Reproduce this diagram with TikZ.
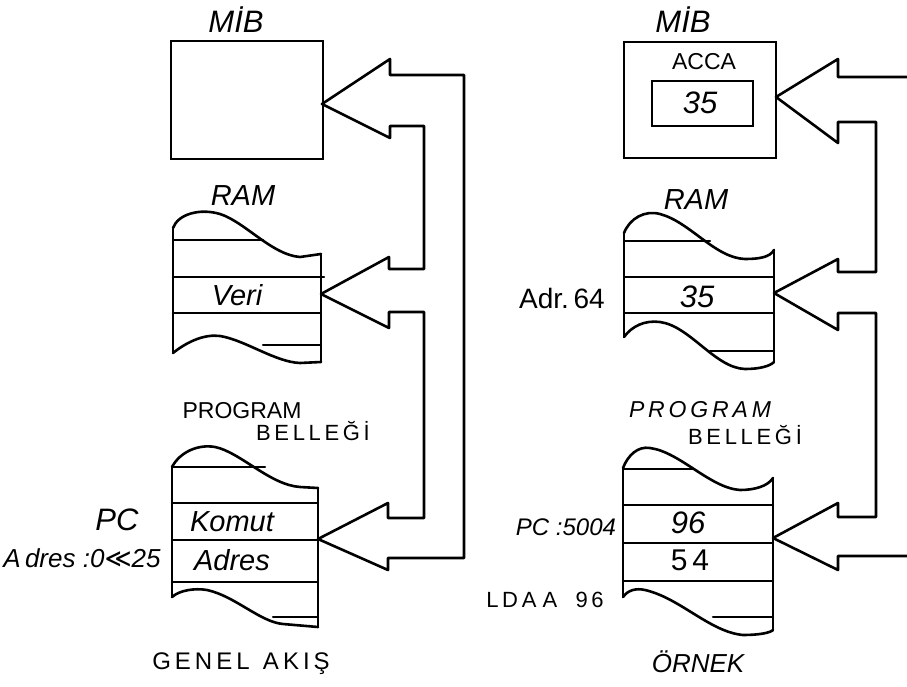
\documentclass[tikz,border=0pt]{standalone}
\usepackage{fontspec}
\setmainfont{Liberation Sans}
\newfontfamily\dvfont{DejaVu Sans}
\tikzset{
  ln/.style={line width=2.6pt, line join=round, line cap=round},
  thin/.style={line width=2.1pt, line cap=round},
  lbl/.style={inner sep=0pt, font=\fontsize{#1}{#1}\selectfont},
  ilbl/.style={inner sep=0pt, font=\fontsize{#1}{#1}\selectfont\itshape},
  boxnode/.style={draw, line width=2.6pt, inner sep=0pt}
}
\begin{document}
\begin{tikzpicture}[x=1pt,y=-1pt]
\useasboundingbox (0,0) rectangle (907,687);
% ================= LEFT PANEL =================
\node[ilbl=31] (lmibt) at (236,20) {MİB};
\node[boxnode, minimum width=152pt, minimum height=118pt] (lmib) at (247,100) {};
% RAM
\node[ilbl=29] (lramt) at (243,196) {RAM};
\draw[ln] (173,228) .. controls (178,214) and (200,208) .. (220,214)
  .. controls (245,222) and (272,255) .. (300,257) -- (321,254);
\draw[ln] (173,228) -- (173,353);
\draw[ln] (321,254) -- (321,362);
\draw[ln] (173,353) .. controls (188,341) and (205,334) .. (220,336)
  .. controls (245,340) and (275,362) .. (300,363) -- (321,362);
\draw[thin] (173,240) -- (263,240);
\draw[thin] (173,277) -- (324,277);
\draw[thin] (173,313) -- (321,313);
\draw[thin] (263,345) -- (321,345);
\node[ilbl=29] (veri) at (237,295) {Veri};
% Program memory
\node[lbl=23] (lprog) at (242,411) {PROGRAM};
\node[lbl=22] (lbel) at (313,431) {B\,E\,L\,L\,E\,Ğ\,İ};
\draw[ln] (172,467) .. controls (180,452) and (198,444) .. (215,447)
  .. controls (240,452) and (270,485) .. (300,487) -- (318,488);
\draw[ln] (172,467) -- (172,597);
\draw[ln] (318,488) -- (318,627);
\draw[ln] (172,597) .. controls (180,590) and (195,588) .. (207,590)
  .. controls (235,596) and (260,622) .. (283,624) -- (318,627);
\draw[thin] (172,467) -- (265,467);
\draw[thin] (172,503) -- (318,503);
\draw[thin] (172,540) -- (318,540);
\draw[thin] (172,582) -- (318,582);
\draw[thin] (273,617) -- (318,617);
\node[ilbl=29] (komut) at (232,522) {Komut};
\node[ilbl=29] (adres) at (232,560) {Adres};
\node[ilbl=31] (pcl) at (117,520) {PC};
\node[ilbl=26] (adrl) at (82,558) {A\,dres :0{\dvfont ≪}25};
\node[lbl=24] (genel) at (241,664) {G\,E\,N\,E\,L\ \ A\,K\,I\,Ş};
% block arrows (one outline)
\draw[ln] (388,558) -- (464,558) -- (464,75) -- (390,75) -- (390,59) -- (322,104)
  -- (390,138) -- (390,126) -- (424,126) -- (424,269) -- (389,269) -- (389,257)
  -- (321,294) -- (389,328) -- (389,312) -- (424,312) -- (424,518) -- (388,518)
  -- (388,503) -- (318,539) -- (388,570) -- cycle;
% ================= RIGHT PANEL =================
\node[ilbl=31] (rmibt) at (683,20) {MİB};
\node[boxnode, minimum width=152pt, minimum height=116pt] (rmib) at (700,100) {};
\node[lbl=23] (acca) at (704,62) {ACCA};
\node[boxnode, minimum width=101pt, minimum height=45pt] (accab) at (702.5,103.5) {};
\node[ilbl=31] (v35a) at (700,103) {35};
% RAM
\node[ilbl=29] (rramt) at (696,200) {RAM};
\draw[ln] (624,233) .. controls (630,218) and (645,210) .. (660,214)
  .. controls (690,222) and (715,258) .. (745,259) .. controls (760,259) and (770,257) .. (774,250);
\draw[ln] (624,233) -- (624,337);
\draw[ln] (774,250) -- (774,362);
\draw[ln] (624,337) .. controls (632,326) and (645,320) .. (660,322)
  .. controls (690,326) and (715,368) .. (745,369) .. controls (760,369) and (770,366) .. (774,362);
\draw[thin] (624,241) -- (710,241);
\draw[thin] (624,277) -- (774,277);
\draw[thin] (624,313) -- (774,313);
\draw[thin] (710,351) -- (774,351);
\node[ilbl=31] (v35b) at (697,297) {35};
\node[lbl=28] (adr64) at (562,298) {Adr.\,64};
% Program memory
\node[ilbl=23] (rprog) at (700,410) {P\,R\,O\,G\,R\,A\,M};
\node[lbl=22] (rbel) at (745,435) {B\,E\,L\,L\,E\,Ğ\,İ};
\draw[ln] (623,468) .. controls (628,455) and (638,446) .. (650,448)
  .. controls (680,452) and (710,488) .. (740,490) .. controls (755,490) and (768,486) .. (773,478);
\draw[ln] (623,468) -- (623,597);
\draw[ln] (773,478) -- (773,630);
\draw[ln] (623,597) .. controls (628,590) and (636,588) .. (645,590)
  .. controls (680,598) and (710,632) .. (743,635) .. controls (758,635) and (770,633) .. (773,630);
\draw[thin] (623,469) -- (693,469);
\draw[thin] (623,505) -- (773,505);
\draw[thin] (623,543) -- (773,543);
\draw[thin] (623,581) -- (773,581);
\draw[thin] (713,617) -- (773,617);
\node[ilbl=31] (v96) at (688,523) {96};
\node[lbl=30] (v54) at (690,560) {5\,4};
\node[ilbl=24] (pcr) at (566,527) {PC :5004};
\node[lbl=22] (ldaa) at (545,600) {L\,D\,A\ A\ \ \ 9\,6};
\node[ilbl=26] (ornek) at (698,662) {ÖRNEK};
% block arrows right
\draw[ln] (907,77) -- (838,77) -- (838,59) -- (776,97) -- (838,143) -- (838,122)
  -- (876,122) -- (876,272) -- (838,272) -- (838,259) -- (774,293) -- (838,330)
  -- (838,313) -- (876,313) -- (876,517) -- (838,517) -- (838,503) -- (773,538)
  -- (838,570) -- (838,556) -- (907,556);
\end{tikzpicture}
\end{document}
